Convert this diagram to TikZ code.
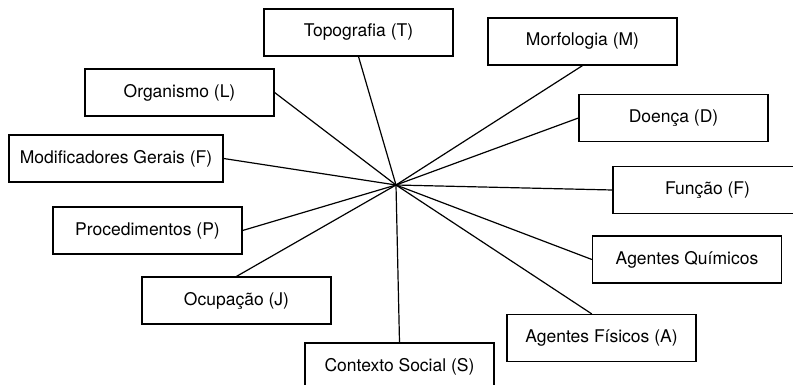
\documentclass[tikz,border=0pt]{standalone}
\usepackage{fontspec}
\setsansfont{TeX Gyre Heros}
\usepackage{tikz}
\usetikzlibrary{arrows}

\begin{document}
\begin{tikzpicture}[-,x=0.5pt,y=-0.5pt,line width=0.6pt,
				term node/.style={rectangle,draw,fill=white,inner sep=0pt,
					font=\sffamily\fontsize{8.75}{10}\selectfont,
					minimum width=94.5pt,minimum height=23.5pt}]
				
				\useasboundingbox (0,0) rectangle (793,385);
				\clip (0,0) rectangle (793,385);
				
				\coordinate (H) at (396,185);
				
				\node[term node] (T) at (358.5,32.5) {Topografia (T)};
				\node[term node] (M) at (582.5,41.5) {Morfologia (M)};
				\node[term node] (L) at (179.5,92.5) {Organismo (L)};
				\node[term node] (D) at (673.5,118) {Doença (D)};
				\node[term node,minimum width=107pt] (F) at (116,158.5) {Modificadores Gerais (F)};
				\node[term node] (Fn) at (707.5,190) {Função (F)};
				\node[term node] (P) at (147.5,230.5) {Procedimentos (P)};
				\node[term node] (Q) at (687,259.5) {Agentes Químicos};
				\node[term node] (J) at (236.5,300.5) {Ocupação (J)};
				\node[term node] (A) at (601.5,338) {Agentes Físicos (A)};
				\node[term node] (S) at (399.5,366.5) {Contexto Social (S)};
				
				\path[-]
				(H) edge (T.south)
				(H) edge (M.south)
				(H) edge (L.east)
				(H) edge (D.west)
				(H) edge (F.east)
				(H) edge (Fn.west)
				(H) edge (P.east)
				(H) edge (Q.west)
				(H) edge (J.north)
				(H) edge (A.112)
				(H) edge (S.north);
			\end{tikzpicture}
\end{document}
